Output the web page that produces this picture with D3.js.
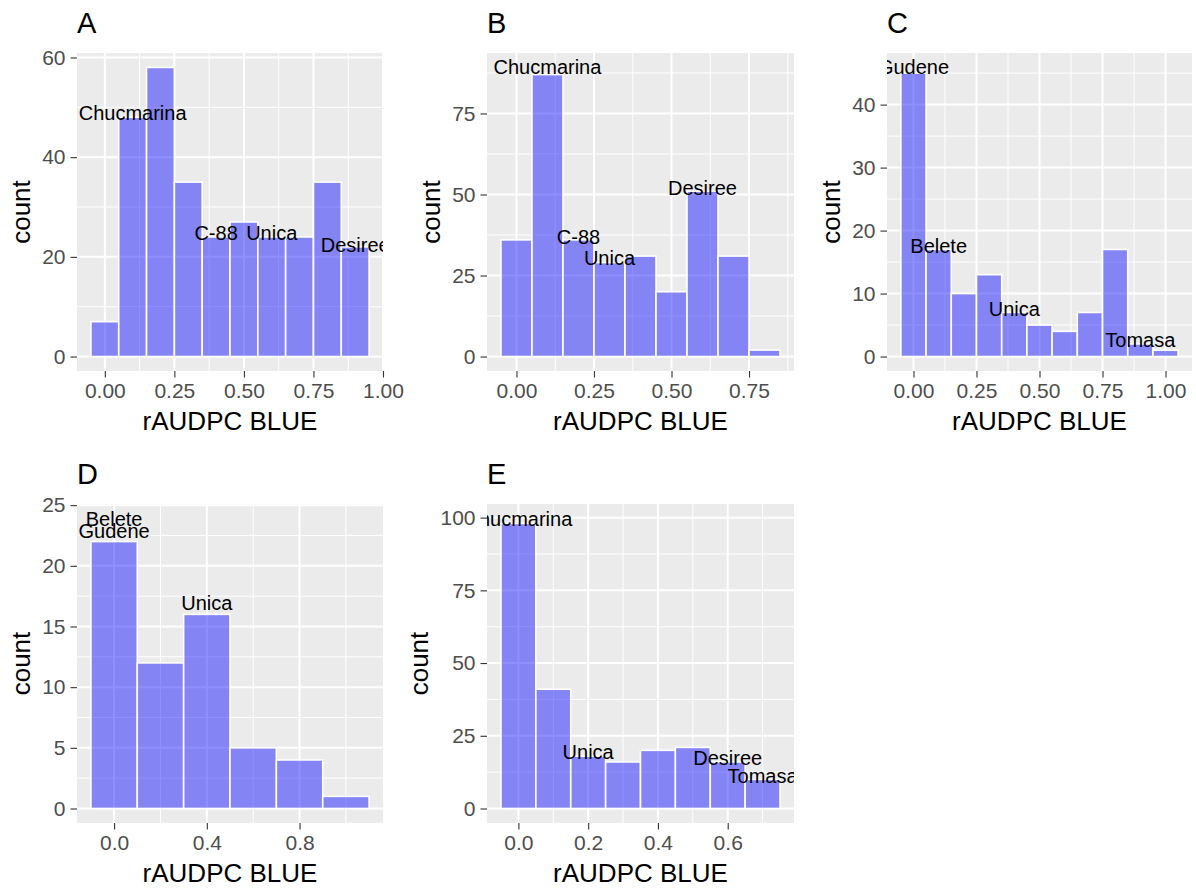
<!DOCTYPE html>
<html lang="en">
<head>
<meta charset="utf-8">
<title>rAUDPC BLUE histograms</title>
<script src="https://d3js.org/d3.v7.min.js"></script>
<style>
  body{margin:0;background:#fff;font-family:"Liberation Sans",Arial,Helvetica,sans-serif;}
  .tick line{stroke:#333;stroke-width:1.1;}
  .tick text{fill:#4d4d4d;font-size:21px;font-family:"Liberation Sans",Arial,Helvetica,sans-serif;}
</style>
</head>
<body>
<div id="chart"></div>
<script>
// panel data: bin centres, counts, tick values and variety labels
var tags = ["A","B","C","D","E"]

var binsA = [0,0.1,0.2,0.3,0.4,0.5,0.6,0.7,0.8,0.9]
var countsA = [7,48,58,35,24,27,24,24,35,22]
var xTicksA = [0,0.25,0.5,0.75,1]
var yTicksA = [0,20,40,60]
var labelNamesA = ["Chucmarina","C-88","Unica","Desiree"]
var labelXA = [0.1,0.4,0.6,0.9]
var labelYA = [48.8,24.8,24.8,22.4]

var binsB = [0,0.1,0.2,0.3,0.4,0.5,0.6,0.7,0.8]
var countsB = [36,87,36,29,31,20,51,31,2]
var xTicksB = [0,0.25,0.5,0.75]
var yTicksB = [0,25,50,75]
var labelNamesB = ["Chucmarina","C-88","Unica","Desiree"]
var labelXB = [0.1,0.2,0.3,0.6]
var labelYB = [89.2,36.9,30.4,52.1]

var binsC = [0,0.1,0.2,0.3,0.4,0.5,0.6,0.7,0.8,0.9,1.0]
var countsC = [45,17,10,13,7,5,4,7,17,2,1]
var xTicksC = [0,0.25,0.5,0.75,1]
var yTicksC = [0,10,20,30,40]
var labelNamesC = ["Gudene","Belete","Unica","Tomasa"]
var labelXC = [0,0.1,0.4,0.9]
var labelYC = [45.9,17.5,7.5,2.65]

var binsD = [0,0.2,0.4,0.6,0.8,1.0]
var countsD = [22,12,16,5,4,1]
var xTicksD = [0,0.4,0.8]
var yTicksD = [0,5,10,15,20,25]
var labelNamesD = ["Belete","Gudene","Unica"]
var labelXD = [0,0,0.4]
var labelYD = [23.9,22.9,16.9]

var binsE = [0,0.1,0.2,0.3,0.4,0.5,0.6,0.7]
var countsE = [98,41,18,16,20,21,16,10]
var xTicksE = [0,0.2,0.4,0.6]
var yTicksE = [0,25,50,75,100]
var labelNamesE = ["Chucmarina","Unica","Desiree","Tomasa"]
var labelXE = [0,0.2,0.6,0.7]
var labelYE = [99.7,19.4,17.4,11.1]

var binWidths = [0.1,0.1,0.1,0.2,0.1]
var xFormats = [".2f",".2f",".2f",".1f",".1f"]

var panels = [
  {bins:binsA,counts:countsA,xt:xTicksA,yt:yTicksA,ln:labelNamesA,lx:labelXA,ly:labelYA},
  {bins:binsB,counts:countsB,xt:xTicksB,yt:yTicksB,ln:labelNamesB,lx:labelXB,ly:labelYB},
  {bins:binsC,counts:countsC,xt:xTicksC,yt:yTicksC,ln:labelNamesC,lx:labelXC,ly:labelYC},
  {bins:binsD,counts:countsD,xt:xTicksD,yt:yTicksD,ln:labelNamesD,lx:labelXD,ly:labelYD},
  {bins:binsE,counts:countsE,xt:xTicksE,yt:yTicksE,ln:labelNamesE,lx:labelXE,ly:labelYE}
]

// layout: panel boxes in pixels
var boxes = [
  {x0:77,x1:383,y0:53,y1:371},
  {x0:487,x1:794,y0:53,y1:371},
  {x0:887,x1:1192,y0:53,y1:371},
  {x0:77,x1:383,y0:504,y1:823},
  {x0:487,x1:794,y0:504,y1:823}
]

var W = 1196, H = 888
var svg = d3.select("#chart").append("svg").attr("width",W).attr("height",H)
var font = "'Liberation Sans',Arial,Helvetica,sans-serif"

// minor breaks halfway between majors, one step beyond each end
function minorBreaks(ticks, domain){
  var step = ticks[1]-ticks[0]
  var out = []
  for (var i=-1;i<ticks.length;i++){
    var m = ticks[0] + (i+0.5)*step
    if (m>domain[0] && m<domain[1]) out.push(m)
  }
  return out
}

panels.forEach(function(p,k){
  var b = boxes[k]
  var w = binWidths[k]
  var xlo = d3.min(p.bins)-w/2, xhi = d3.max(p.bins)+w/2
  var xpad = (xhi-xlo)*0.05
  var ymax = Math.max(d3.max(p.counts), d3.max(p.ly))
  var ypad = ymax*0.05
  var x = d3.scaleLinear().domain([xlo-xpad, xhi+xpad]).range([b.x0,b.x1])
  var y = d3.scaleLinear().domain([-ypad, ymax+ypad]).range([b.y1,b.y0])

  var g = svg.append("g")
  var clipId = "clip"+k
  svg.append("clipPath").attr("id",clipId).append("rect")
    .attr("x",b.x0).attr("y",b.y0).attr("width",b.x1-b.x0).attr("height",b.y1-b.y0)

  g.append("rect").attr("x",b.x0).attr("y",b.y0)
    .attr("width",b.x1-b.x0).attr("height",b.y1-b.y0).attr("fill","#ebebeb")

  // grid
  var grid = g.append("g").attr("clip-path","url(#"+clipId+")")
  minorBreaks(p.xt, x.domain()).forEach(function(v){
    grid.append("line").attr("x1",x(v)).attr("x2",x(v)).attr("y1",b.y0).attr("y2",b.y1)
      .attr("stroke","#fff").attr("stroke-width",1)
  })
  minorBreaks(p.yt, y.domain()).forEach(function(v){
    grid.append("line").attr("y1",y(v)).attr("y2",y(v)).attr("x1",b.x0).attr("x2",b.x1)
      .attr("stroke","#fff").attr("stroke-width",1)
  })
  p.xt.forEach(function(v){
    grid.append("line").attr("x1",x(v)).attr("x2",x(v)).attr("y1",b.y0).attr("y2",b.y1)
      .attr("stroke","#fff").attr("stroke-width",2)
  })
  p.yt.forEach(function(v){
    grid.append("line").attr("y1",y(v)).attr("y2",y(v)).attr("x1",b.x0).attr("x2",b.x1)
      .attr("stroke","#fff").attr("stroke-width",2)
  })

  // bars
  var inner = g.append("g").attr("clip-path","url(#"+clipId+")")
  inner.selectAll("rect.bar")
    .data(p.counts)
    .enter()
    .append("rect")
    .attr("class","bar")
    .attr("x",function(d,i){ return x(p.bins[i]-w/2) })
    .attr("width",function(d,i){ return x(p.bins[i]+w/2)-x(p.bins[i]-w/2) })
    .attr("y",function(d){ return y(d) })
    .attr("height",function(d){ return y(0)-y(d) })
    .attr("fill","blue").attr("fill-opacity",0.44)
    .attr("stroke","#fff").attr("stroke-width",1.6)

  // variety labels
  inner.selectAll("text.lab")
    .data(p.ln)
    .enter()
    .append("text")
    .attr("class","lab")
    .attr("x",function(d,i){ return x(p.lx[i]) })
    .attr("y",function(d,i){ return y(p.ly[i]) })
    .attr("dy","0.35em")
    .attr("text-anchor","middle")
    .attr("font-family",font).attr("font-size",20).attr("fill","#000")
    .text(function(d){ return d })

  // axes
  var yAxis = g.append("g").attr("transform","translate("+b.x0+",0)")
    .call(d3.axisLeft(y).tickValues(p.yt).tickFormat(d3.format("d")).tickSize(6.5).tickPadding(5))
  yAxis.select(".domain").remove()
  var xAxis = g.append("g").attr("transform","translate(0,"+b.y1+")")
    .call(d3.axisBottom(x).tickValues(p.xt).tickFormat(d3.format(xFormats[k])).tickSize(6.5).tickPadding(6))
  xAxis.select(".domain").remove()

  var bb = yAxis.node().getBBox()
  g.append("text")
    .attr("transform","translate("+(b.x0+bb.x-12)+","+((b.y0+b.y1)/2)+") rotate(-90)")
    .attr("text-anchor","middle")
    .attr("font-family",font).attr("font-size",26).attr("fill","#000")
    .text("count")

  g.append("text")
    .attr("x",(b.x0+b.x1)/2).attr("y",b.y1+59)
    .attr("text-anchor","middle")
    .attr("font-family",font).attr("font-size",26).attr("fill","#000")
    .text("rAUDPC BLUE")

  g.append("text")
    .attr("x",b.x0).attr("y",b.y0-20)
    .attr("font-family",font).attr("font-size",29).attr("fill","#000")
    .text(tags[k])
})
</script>
</body>
</html>
